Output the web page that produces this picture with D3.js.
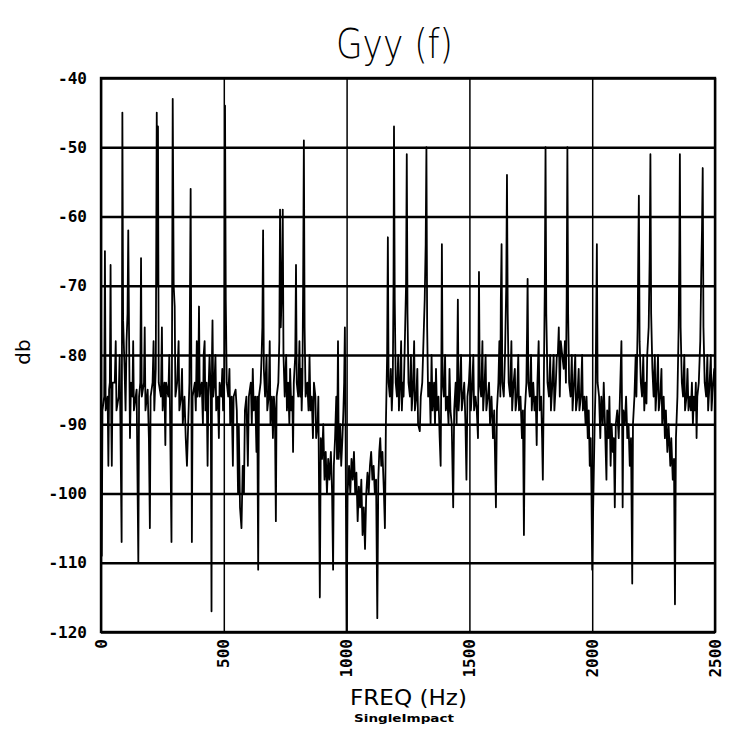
<!DOCTYPE html>
<html lang="en">
<head>
  <meta charset="UTF-8">
  <title>Gyy (f)</title>
  <script src="https://d3js.org/d3.v7.min.js"></script>
  <style>
    html, body {
      margin: 0;
      background: #fff;
    }
    svg {
      display: block;
    }
    .grid line {
      stroke: #000;
    }
    .tick-label {
      font-family: "DejaVu Sans Mono", monospace;
      font-size: 16px;
      font-weight: bold;
      fill: #000;
    }
  </style>
</head>
<body>
  <svg width="729" height="729"></svg>
  <script>
    // spectrum trace: frequency (Hz) and level (dB), 10 points per row
    const freqHz = [
      0, 3, 6, 13, 16, 19, 27, 30, 33, 36,
      39, 42, 44, 47, 56, 60, 63, 72, 76, 79,
      84, 87, 90, 96, 100, 104, 108, 111, 114, 118,
      122, 128, 131, 134, 145, 152, 155, 160, 163, 166,
      175, 178, 181, 190, 195, 199, 202, 210, 214, 217,
      223, 227, 230, 232, 235, 244, 248, 251, 258, 262,
      265, 274, 278, 281, 287, 289, 292, 296, 300, 303,
      310, 316, 319, 326, 330, 333, 340, 345, 350, 355,
      360, 365, 368, 370, 373, 382, 386, 390, 393, 396,
      399, 402, 410, 415, 418, 422, 425, 430, 434, 437,
      442, 447, 450, 452, 454, 457, 462, 466, 469, 476,
      480, 483, 490, 494, 497, 502, 505, 508, 512, 518,
      523, 526, 532, 537, 540, 548, 553, 558, 561, 566,
      572, 577, 582, 586, 592, 598, 602, 610, 614, 618,
      622, 628, 633, 636, 640, 643, 650, 654, 657, 660,
      663, 668, 674, 677, 683, 687, 690, 696, 700, 704,
      708, 712, 715, 722, 726, 729, 732, 735, 738, 740,
      743, 748, 754, 757, 762, 767, 770, 775, 779, 782,
      785, 791, 794, 797, 803, 808, 811, 815, 817, 820,
      823, 826, 829, 833, 840, 845, 849, 853, 858, 863,
      867, 873, 876, 882, 885, 891, 895, 900, 905, 910,
      915, 920, 925, 930, 936, 941, 945, 948, 953, 958,
      961, 965, 968, 974, 978, 983, 987, 990, 993, 996,
      1000, 1004, 1010, 1015, 1020, 1025, 1030, 1035, 1040, 1045,
      1050, 1055, 1060, 1065, 1070, 1075, 1080, 1085, 1090, 1095,
      1100, 1105, 1110, 1115, 1120, 1125, 1129, 1133, 1137, 1141,
      1146, 1152, 1156, 1160, 1165, 1168, 1171, 1176, 1180, 1184,
      1188, 1191, 1193, 1196, 1200, 1205, 1210, 1213, 1218, 1222,
      1225, 1229, 1232, 1236, 1242, 1245, 1248, 1252, 1258, 1262,
      1265, 1270, 1275, 1278, 1284, 1288, 1291, 1298, 1302, 1308,
      1313, 1318, 1322, 1325, 1328, 1332, 1338, 1342, 1346, 1350,
      1356, 1360, 1364, 1368, 1374, 1379, 1383, 1386, 1388, 1391,
      1396, 1401, 1404, 1410, 1415, 1419, 1423, 1428, 1434, 1438,
      1444, 1448, 1453, 1456, 1462, 1466, 1469, 1474, 1479, 1484,
      1488, 1492, 1498, 1503, 1506, 1512, 1516, 1519, 1525, 1530,
      1535, 1537, 1539, 1542, 1548, 1553, 1556, 1562, 1566, 1569,
      1575, 1580, 1584, 1590, 1596, 1601, 1608, 1612, 1618, 1622,
      1626, 1628, 1631, 1634, 1640, 1645, 1650, 1653, 1656, 1660,
      1666, 1671, 1674, 1680, 1685, 1688, 1694, 1699, 1702, 1708,
      1714, 1718, 1722, 1726, 1732, 1735, 1737, 1740, 1746, 1751,
      1754, 1760, 1765, 1770, 1774, 1777, 1782, 1786, 1792, 1796,
      1799, 1803, 1807, 1810, 1813, 1818, 1824, 1829, 1832, 1838,
      1843, 1846, 1852, 1856, 1860, 1864, 1868, 1872, 1878, 1884,
      1889, 1893, 1896, 1899, 1902, 1906, 1912, 1917, 1920, 1926,
      1931, 1934, 1940, 1945, 1948, 1954, 1959, 1962, 1968, 1973,
      1977, 1982, 1986, 1990, 1994, 1997, 2000, 2003, 2006, 2010,
      2014, 2016, 2019, 2022, 2028, 2033, 2037, 2043, 2047, 2052,
      2055, 2058, 2061, 2066, 2070, 2075, 2079, 2084, 2088, 2092,
      2096, 2102, 2108, 2113, 2116, 2119, 2122, 2124, 2127, 2133,
      2138, 2143, 2148, 2153, 2158, 2163, 2166, 2172, 2177, 2180,
      2185, 2188, 2190, 2193, 2198, 2203, 2208, 2212, 2217, 2221,
      2224, 2230, 2234, 2237, 2240, 2245, 2250, 2255, 2258, 2264,
      2268, 2271, 2277, 2282, 2285, 2291, 2296, 2300, 2306, 2311,
      2318, 2322, 2328, 2333, 2337, 2341, 2347, 2352, 2355, 2357,
      2360, 2365, 2370, 2375, 2378, 2384, 2388, 2392, 2398, 2402,
      2406, 2410, 2414, 2418, 2422, 2425, 2428, 2434, 2440, 2444,
      2447, 2450, 2453, 2458, 2464, 2469, 2472, 2478, 2483, 2486,
      2492, 2497, 2500
    ];
    const gyyDb = [
      -70, -109, -88, -86, -65, -88, -86, -96, -85, -84,
      -67, -90, -96, -84, -84, -78, -88, -86, -80, -90,
      -107, -45, -75, -82, -88, -78, -74, -62, -76, -92,
      -84, -86, -78, -88, -85, -110, -86, -84, -66, -86,
      -84, -76, -88, -85, -92, -105, -86, -84, -78, -88,
      -82, -45, -70, -47, -84, -86, -76, -88, -84, -93,
      -84, -86, -80, -88, -107, -80, -43, -70, -73, -86,
      -84, -78, -88, -86, -82, -90, -86, -92, -96, -90,
      -84, -56, -84, -107, -86, -84, -88, -78, -86, -84,
      -73, -86, -84, -90, -80, -78, -88, -84, -96, -86,
      -80, -86, -117, -80, -75, -86, -84, -80, -88, -86,
      -92, -84, -86, -82, -88, -84, -44, -72, -84, -86,
      -82, -90, -86, -96, -86, -85, -88, -100, -90, -102,
      -105, -96, -100, -88, -86, -96, -86, -84, -90, -82,
      -88, -86, -94, -86, -111, -86, -84, -80, -76, -62,
      -82, -86, -80, -88, -86, -78, -90, -86, -92, -86,
      -88, -104, -86, -84, -78, -59, -76, -72, -66, -59,
      -80, -86, -80, -88, -84, -90, -82, -88, -86, -94,
      -84, -80, -67, -84, -86, -78, -86, -82, -88, -84,
      -70, -49, -76, -86, -84, -88, -80, -88, -86, -92,
      -84, -86, -92, -90, -86, -115, -92, -95, -90, -98,
      -94, -100, -95, -98, -94, -100, -111, -96, -92, -86,
      -95, -78, -95, -90, -96, -92, -88, -84, -76, -92,
      -122, -100, -96, -100, -95, -98, -94, -100, -97, -104,
      -99, -102, -98, -106, -102, -108, -100, -97, -100, -96,
      -94, -98, -96, -100, -98, -118, -98, -94, -92, -96,
      -94, -100, -105, -90, -80, -63, -84, -86, -82, -88,
      -84, -70, -47, -72, -84, -86, -80, -88, -84, -78,
      -88, -84, -86, -80, -70, -51, -74, -84, -86, -80,
      -88, -85, -78, -88, -86, -82, -90, -91, -86, -84,
      -78, -72, -64, -50, -76, -86, -84, -90, -80, -88,
      -84, -90, -82, -88, -86, -92, -96, -80, -64, -84,
      -86, -80, -88, -86, -90, -82, -88, -90, -102, -88,
      -84, -90, -72, -88, -84, -80, -88, -86, -84, -90,
      -98, -86, -84, -80, -88, -84, -80, -88, -86, -88,
      -92, -80, -68, -84, -86, -78, -88, -84, -80, -88,
      -86, -84, -90, -86, -92, -88, -102, -88, -84, -78,
      -86, -72, -64, -84, -86, -80, -70, -54, -74, -84,
      -86, -78, -88, -84, -82, -88, -86, -80, -88, -86,
      -92, -88, -106, -88, -84, -76, -69, -84, -86, -80,
      -88, -84, -88, -86, -93, -84, -78, -88, -86, -92,
      -98, -84, -70, -50, -74, -84, -86, -80, -88, -84,
      -80, -88, -84, -80, -80, -76, -86, -78, -80, -82,
      -78, -84, -72, -50, -74, -84, -86, -80, -88, -84,
      -80, -88, -86, -82, -88, -86, -80, -88, -86, -90,
      -86, -92, -88, -96, -92, -100, -111, -104, -98, -90,
      -84, -76, -64, -84, -86, -92, -86, -90, -84, -90,
      -94, -98, -88, -92, -86, -96, -90, -94, -92, -102,
      -90, -88, -92, -86, -82, -78, -90, -102, -88, -90,
      -86, -92, -90, -96, -92, -113, -90, -86, -80, -86,
      -76, -64, -57, -78, -84, -86, -80, -88, -84, -87,
      -80, -76, -66, -51, -74, -82, -86, -80, -88, -84,
      -80, -88, -86, -82, -90, -86, -92, -88, -94, -90,
      -96, -92, -98, -95, -116, -92, -86, -76, -64, -51,
      -76, -84, -86, -80, -88, -86, -82, -88, -86, -88,
      -84, -90, -86, -88, -84, -92, -86, -84, -78, -68,
      -62, -53, -76, -84, -86, -80, -88, -84, -80, -88,
      -84, -82, -86
    ];
    const xTicks = [0, 500, 1000, 1500, 2000, 2500];
    const yTicks = [-40, -50, -60, -70, -80, -90, -100, -110, -120];

    const plot = { left: 101, right: 715, top: 78, bottom: 632 };

    const x = d3.scaleLinear().domain([0, 2500]).range([plot.left, plot.right]);
    const y = d3.scaleLinear().domain([-120, -40]).range([plot.bottom, plot.top]);

    const svg = d3.select("svg");

    svg.append("defs").append("clipPath")
      .attr("id", "plot-clip")
      .append("rect")
      .attr("x", plot.left)
      .attr("y", plot.top)
      .attr("width", plot.right - plot.left)
      .attr("height", plot.bottom - plot.top);

    // horizontal grid
    svg.append("g")
      .attr("class", "grid")
      .attr("transform", `translate(${plot.left},0)`)
      .call(d3.axisLeft(y).tickValues(yTicks).tickSize(-(plot.right - plot.left)).tickFormat(""))
      .call(g => g.select(".domain").remove())
      .selectAll("line").attr("stroke-width", 2.4);

    // vertical grid
    svg.append("g")
      .attr("class", "grid")
      .attr("transform", `translate(0,${plot.bottom})`)
      .call(d3.axisBottom(x).tickValues(xTicks).tickSize(-(plot.bottom - plot.top)).tickFormat(""))
      .call(g => g.select(".domain").remove())
      .selectAll("line").attr("stroke-width", 1.5);

    // frame
    svg.append("rect")
      .attr("x", plot.left)
      .attr("y", plot.top)
      .attr("width", plot.right - plot.left)
      .attr("height", plot.bottom - plot.top)
      .attr("fill", "none")
      .attr("stroke", "#000")
      .attr("stroke-width", 2.4);

    // trace
    const line = d3.line()
      .x((d, i) => x(freqHz[i]))
      .y(d => y(d));

    svg.append("path")
      .datum(gyyDb)
      .attr("clip-path", "url(#plot-clip)")
      .attr("fill", "none")
      .attr("stroke", "#000")
      .attr("stroke-width", 1.8)
      .attr("stroke-linejoin", "round")
      .attr("d", line);

    // y tick labels
    svg.append("g")
      .selectAll("text")
      .data(yTicks)
      .join("text")
      .attr("class", "tick-label")
      .attr("x", plot.left - 14)
      .attr("y", d => y(d))
      .attr("dy", "0.35em")
      .attr("text-anchor", "end")
      .text(d => d);

    // x tick labels, rotated
    svg.append("g")
      .selectAll("text")
      .data(xTicks)
      .join("text")
      .attr("class", "tick-label")
      .attr("transform", d => `translate(${x(d)},${plot.bottom + 7}) rotate(-90)`)
      .attr("dy", "0.35em")
      .attr("text-anchor", "end")
      .text(d => d);

    // titles
    svg.append("text")
      .attr("x", 336)
      .attr("y", 58)
      .attr("textLength", 117)
      .attr("lengthAdjust", "spacingAndGlyphs")
      .style("font-family", "DejaVu Sans")
      .style("font-size", "40px")
      .style("font-weight", "300")
      .text("Gyy (f)");

    svg.append("text")
      .attr("transform", "translate(30,352) rotate(-90)")
      .attr("text-anchor", "middle")
      .style("font-family", "DejaVu Sans")
      .style("font-size", "20px")
      .text("db");

    svg.append("text")
      .attr("x", 350)
      .attr("y", 705)
      .attr("textLength", 117)
      .attr("lengthAdjust", "spacingAndGlyphs")
      .style("font-family", "DejaVu Sans")
      .style("font-size", "22px")
      .text("FREQ  (Hz)");

    svg.append("text")
      .attr("x", 354)
      .attr("y", 722)
      .attr("textLength", 100)
      .attr("lengthAdjust", "spacingAndGlyphs")
      .style("font-family", "DejaVu Sans")
      .style("font-size", "11px")
      .style("font-weight", "bold")
      .text("SingleImpact");
  </script>
</body>
</html>
